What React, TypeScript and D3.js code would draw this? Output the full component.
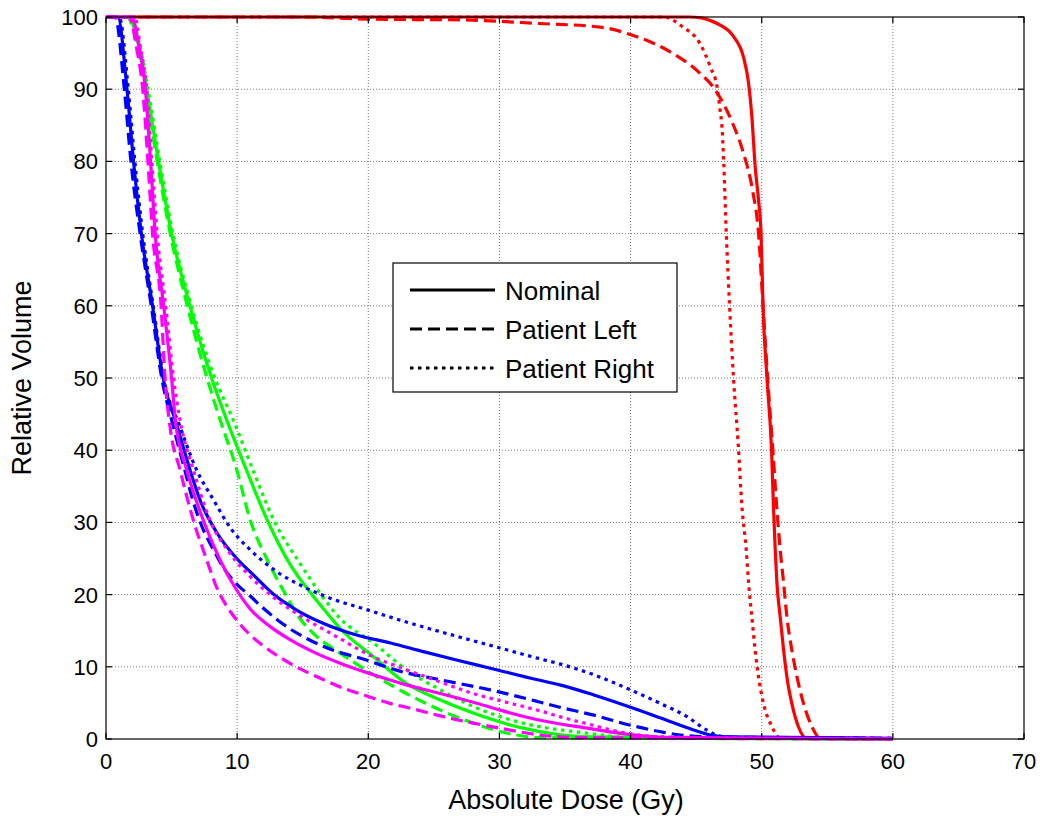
import React from "react";
import * as d3 from "d3";

type Pt = [number, number];

// Dose (Gy) -> relative volume (%)
const redSolid: Pt[] = [[0,100],[44.5,100],[45.3,99.9],[46.6,99.1],[47.85,97.3],[48.6,94.5],[49.0,90.8],[49.25,86.2],[49.5,79.3],[49.76,74.6],[49.95,70],[50.1,60],[50.4,50],[50.75,40],[50.9,32],[51.03,26.2],[51.16,21.6],[51.41,16.9],[51.67,12.3],[51.92,8.6],[52.3,4.9],[52.8,1.7],[53.4,0.1],[60,0]];
const redDashed: Pt[] = [[0,100],[15,100],[20,99.7],[27,99.6],[33,99.1],[37.7,98.6],[40.1,97.5],[42.8,95.4],[45.3,92.2],[46.3,90.3],[46.8,88.9],[47.8,85.2],[48.6,81.2],[49.3,76],[49.76,70],[50.1,60],[50.45,50],[50.85,40],[51.15,32],[51.41,26.2],[51.67,21.6],[51.92,16.9],[52.3,12.3],[52.69,8.6],[53.19,4.9],[53.83,1.7],[54.46,0.1],[60,0]];
const redDotted: Pt[] = [[0,100],[42.5,100],[44.0,98.6],[45.3,96.3],[46.1,93],[46.6,90.3],[46.8,87.5],[47.0,83.9],[47.1,80],[47.3,70],[47.55,60],[47.85,50],[48.2,41],[48.5,32],[48.82,26.2],[49.0,21.6],[49.25,16.9],[49.5,12.3],[49.76,8.6],[50.14,4.9],[50.78,1.7],[51.4,0.1],[60,0]];

const greenSolid: Pt[] = [[0,100],[1.7,100],[2.3,97.5],[3.1,90],[4.0,80],[5.0,70],[6.4,60],[8.05,50],[9.2,44.2],[10.7,37.3],[12.3,30.3],[14.0,24.3],[15.7,20],[17.1,16.9],[17.85,15.3],[20.4,11.4],[22.9,7.7],[25.5,5.4],[28.0,3.6],[31.8,1.5],[36.7,0.3],[60,0]];
const greenDashed: Pt[] = [[0,100],[1.6,100],[2.2,97.5],[3.0,90],[3.9,80],[4.9,70],[6.2,60],[7.7,50],[8.7,44.2],[9.97,37.3],[11.0,30.3],[12.3,24.8],[13.7,20],[14.7,16.9],[16.0,14.3],[17.85,11.9],[20.4,8.9],[22.9,6.3],[25.5,4.0],[28.0,2.2],[30.6,0.8],[33.1,0.2],[60,0]];
const greenDotted: Pt[] = [[0,100],[1.8,100],[2.4,97.5],[3.2,90],[4.1,80],[5.1,70],[6.5,60],[8.3,50],[9.7,44.2],[11.2,37.3],[12.8,30.3],[14.8,24.3],[16.4,20],[17.85,16.7],[20.4,13.3],[22.9,9.6],[25.5,6.8],[28.0,4.5],[31.8,2.2],[36.7,0.8],[40,0.2],[60,0]];

const blueSolid: Pt[] = [[0,100],[0.9,100],[1.6,90],[2.1,80],[2.7,70],[3.55,60],[4.35,50],[5.4,43.5],[6.4,37.3],[7.17,33.1],[8.44,28.6],[9.97,25.0],[11.2,22.8],[12.8,20.0],[14.5,17.9],[16.6,16.0],[19.1,14.4],[21.7,13.3],[24.2,12.1],[26.8,10.9],[29.3,9.8],[32.9,8.2],[34.6,7.5],[37.2,6.1],[40.0,4.4],[42.3,2.9],[44.8,1.25],[46.1,0.55],[47.3,0.3],[60,0.1]];
const blueDashed: Pt[] = [[0,100],[0.7,100],[1.4,90],[1.9,80],[2.6,70],[3.45,60],[4.25,50],[5.1,43.5],[6.0,37.3],[6.6,33.2],[7.3,29.5],[8.2,26.2],[9.0,23.6],[10.0,21.4],[11.0,19.8],[12.0,18.1],[13.0,16.6],[14.0,15.3],[16.6,12.8],[19.9,10.9],[22.4,9.4],[25.5,8.2],[29.3,6.8],[32.9,5.2],[34.6,4.4],[37.2,3.3],[40.0,1.9],[42.3,1.0],[43.8,0.55],[46.1,0.3],[60,0.1]];
const blueDotted: Pt[] = [[0,100],[1.0,100],[1.7,90],[2.2,80],[2.8,70],[3.6,60],[4.4,50],[5.6,43.5],[6.9,37.3],[8.2,33.1],[9.5,29.2],[11.0,26.2],[13.0,23.2],[15.05,21.1],[17.1,19.5],[19.9,17.9],[22.9,16.2],[26.8,14.2],[30.05,12.6],[32.9,11.2],[34.6,10.4],[37.2,8.9],[40.0,6.8],[42.3,4.9],[44.3,3.1],[45.8,1.25],[46.8,0.4],[48,0.2],[60,0.1]];

const magentaSolid: Pt[] = [[0,100],[2.0,100],[2.4,97],[3.0,90],[3.4,80],[3.75,70],[4.4,60],[5.0,50],[5.3,44],[6.15,37.3],[7.42,30.3],[8.7,24.8],[9.97,20.6],[11.0,18.0],[12.5,15.6],[14.0,13.8],[16.0,11.9],[17.85,10.5],[20.4,8.9],[22.9,7.5],[25.5,6.3],[28.0,5.1],[30.05,4.0],[33.1,2.6],[36.7,1.5],[40.0,0.6],[43,0.2],[60,0]];
const magentaDashed: Pt[] = [[0,100],[1.8,100],[2.3,96],[2.8,90],[3.2,80],[3.55,70],[4.2,60],[4.5,50],[4.9,43],[5.64,37.3],[6.66,30.3],[7.68,24.8],[8.44,21],[9.2,18.4],[10.0,16.4],[11.0,14.4],[12.0,12.9],[14.0,10.5],[16.6,8.2],[18.0,7.1],[20.0,5.9],[21.7,4.9],[22.9,4.4],[25.5,3.2],[28.0,2.2],[30.05,1.5],[33.1,0.55],[36,0.2],[60,0]];
const magentaDotted: Pt[] = [[0,100],[2.2,100],[2.6,96],[3.1,90],[3.5,80],[3.9,70],[4.55,60],[5.15,50],[5.64,44.2],[6.66,37.3],[7.93,30.3],[9.46,25.7],[11.0,22.5],[13.0,19.3],[14.8,17.1],[17.85,13.9],[20.0,11.7],[22.9,9.6],[25.5,7.9],[28.0,6.3],[30.5,5.1],[33.1,3.9],[34.6,3.1],[36.7,2.1],[39.7,0.8],[42.3,0.3],[60,0]];

const xTicks = [0, 10, 20, 30, 40, 50, 60, 70];
const yTicks = [0, 10, 20, 30, 40, 50, 60, 70, 80, 90, 100];
const legendLabels = ["Nominal", "Patient Left", "Patient Right"];
const legendStyles = ["solid", "dashed", "dotted"];

const DASH: Record<string, string | undefined> = {
  solid: undefined,
  dashed: "12,6",
  dotted: "3.5,4.5",
};

const series = [
  { data: redSolid, color: "#ff0000", style: "solid" },
  { data: redDashed, color: "#ff0000", style: "dashed" },
  { data: redDotted, color: "#ff0000", style: "dotted" },
  { data: greenSolid, color: "#00ff00", style: "solid" },
  { data: greenDashed, color: "#00ff00", style: "dashed" },
  { data: greenDotted, color: "#00ff00", style: "dotted" },
  { data: blueSolid, color: "#0000ff", style: "solid" },
  { data: blueDashed, color: "#0000ff", style: "dashed" },
  { data: blueDotted, color: "#0000ff", style: "dotted" },
  { data: magentaSolid, color: "#ff00ff", style: "solid" },
  { data: magentaDashed, color: "#ff00ff", style: "dashed" },
  { data: magentaDotted, color: "#ff00ff", style: "dotted" },
];

const W = 1043;
const H = 817;
const L = 106, T = 17, R = 1024, B = 739;
const FONT = "'Liberation Sans', Arial, sans-serif";

export default function App() {
  const x = d3.scaleLinear().domain([0, 70]).range([L, R]);
  const y = d3.scaleLinear().domain([0, 100]).range([B, T]);
  const line = d3
    .line<Pt>()
    .x((d) => x(d[0]))
    .y((d) => y(d[1]))
    .curve(d3.curveMonotoneX);
  const tick = 6;
  return (
    <svg
      width={W}
      height={H}
      style={{ position: "absolute", left: 0, top: 0, background: "#fff" }}
      fontFamily={FONT}
    >
      <rect x={0} y={0} width={W} height={H} fill="#fff" />
      <g stroke="#777" strokeWidth={1} strokeDasharray="1,2">
        {xTicks.slice(1, -1).map((t) => (
          <line key={"gx" + t} x1={x(t)} x2={x(t)} y1={T} y2={B} />
        ))}
        {yTicks.slice(1, -1).map((t) => (
          <line key={"gy" + t} x1={L} x2={R} y1={y(t)} y2={y(t)} />
        ))}
      </g>
      <defs>
        <clipPath id="clip">
          <rect x={L - 2} y={T - 2} width={R - L + 4} height={B - T + 4} />
        </clipPath>
      </defs>
      <g clipPath="url(#clip)" fill="none" strokeWidth={3.2} strokeLinejoin="round">
        {series.map((s, i) => (
          <path
            key={i}
            d={line(s.data) || ""}
            stroke={s.color}
            strokeDasharray={DASH[s.style]}
          />
        ))}
      </g>
      <rect x={L} y={T} width={R - L} height={B - T} fill="none" stroke="#000" strokeWidth={1.2} />
      <g stroke="#000" strokeWidth={1.2}>
        {xTicks.map((t) => (
          <g key={"tx" + t}>
            <line x1={x(t)} x2={x(t)} y1={B} y2={B - tick} />
            <line x1={x(t)} x2={x(t)} y1={T} y2={T + tick} />
          </g>
        ))}
        {yTicks.map((t) => (
          <g key={"ty" + t}>
            <line x1={L} x2={L + tick} y1={y(t)} y2={y(t)} />
            <line x1={R} x2={R - tick} y1={y(t)} y2={y(t)} />
          </g>
        ))}
      </g>
      <g fontSize={22} fill="#000">
        {xTicks.map((t) => (
          <text key={"lx" + t} x={x(t)} y={B + 30} textAnchor="middle">
            {t}
          </text>
        ))}
        {yTicks.map((t) => (
          <text key={"ly" + t} x={L - 8} y={y(t) + 8} textAnchor="end">
            {t}
          </text>
        ))}
      </g>
      <text x={566} y={809} fontSize={27} textAnchor="middle">
        Absolute Dose (Gy)
      </text>
      <text
        transform={`translate(31,${(T + B) / 2}) rotate(-90)`}
        fontSize={27}
        textAnchor="middle"
      >
        Relative Volume
      </text>
      <g>
        <rect x={393} y={263} width={284} height={129} fill="#fff" stroke="#000" strokeWidth={1.2} />
        {legendLabels.map((lab, i) => (
          <g key={lab}>
            <line
              x1={410}
              x2={495}
              y1={290 + i * 39}
              y2={290 + i * 39}
              stroke="#000"
              strokeWidth={3}
              strokeDasharray={DASH[legendStyles[i]]}
            />
            <text x={505} y={290 + i * 39 + 10} fontSize={26}>
              {lab}
            </text>
          </g>
        ))}
      </g>
    </svg>
  );
}
